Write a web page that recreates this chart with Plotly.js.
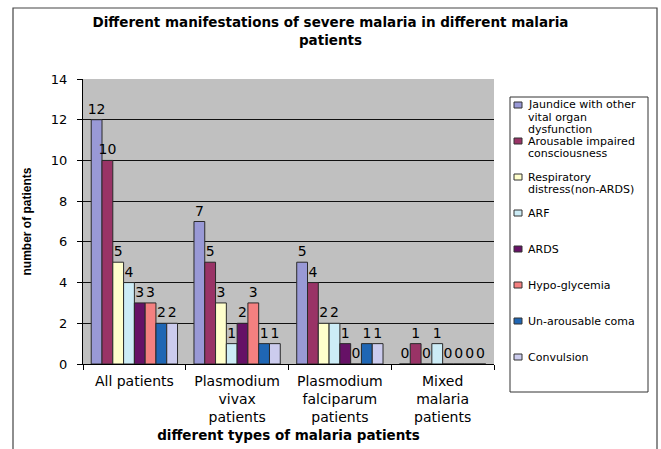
<!DOCTYPE html>
<html>
<head>
<meta charset="utf-8">
<script src="https://cdn.plot.ly/plotly-3.0.1.min.js"></script>
<style>html,body{margin:0;padding:0;background:#fff;}#chart{width:661px;height:449px;}</style>
</head>
<body>
<div id="chart"></div>
<script>
// ---- data ----
const categories = ["All patients", "Plasmodium<br>vivax<br>patients", "Plasmodium<br>falciparum<br>patients", "Mixed<br>malaria<br>patients"];
const seriesNames = ["Jaundice with other vital organ dysfunction", "Arousable impaired consciousness", "Respiratory distress(non-ARDS)", "ARF", "ARDS", "Hypo-glycemia", "Un-arousable coma", "Convulsion"];
const legendLabels = [["Jaundice with other", "vital organ", "dysfunction"], ["Arousable impaired", "consciousness"], ["Respiratory", "distress(non-ARDS)"], ["ARF"], ["ARDS"], ["Hypo-glycemia"], ["Un-arousable coma"], ["Convulsion"]];
const jaundice    = [12, 7, 5, 0];
const arousable   = [10, 5, 4, 1];
const respiratory = [5, 3, 2, 0];
const arf         = [4, 1, 2, 1];
const ards        = [3, 2, 1, 0];
const hypo        = [3, 3, 0, 0];
const unarousable = [2, 1, 1, 0];
const convulsion  = [2, 1, 1, 0];
const seriesValues = [jaundice, arousable, respiratory, arf, ards, hypo, unarousable, convulsion];
const seriesColors = ["#9999D6", "#993366", "#FFFFCC", "#CCECF6", "#661166", "#F48080", "#1F66B4", "#CCCCEE"];

// ---- layout geometry (pixels) ----
const W = 661, H = 449;
const plotL = 83, plotR = 494, plotT = 79, plotB = 364;
const pw = plotR - plotL, ph = plotB - plotT;
const px = x => (x - plotL) / pw;
const py = y => (plotB - y) / ph;

const FONT = "DejaVu Sans";

const traces = seriesNames.map((name, i) => ({
  type: "bar",
  name: name,
  x: categories,
  y: seriesValues[i],
  text: seriesValues[i].map(String),
  textposition: "outside",
  cliponaxis: false,
  constraintext: "none",
  textfont: {family: FONT, size: 14, color: "#000"},
  marker: {color: seriesColors[i], line: {color: "#2a2a2a", width: 1}},
  showlegend: false
}));

const shapes = [
  // outer frame
  {type: "rect", xref: "paper", yref: "paper", x0: px(13), x1: px(657), y0: py(470), y1: py(8),
   line: {color: "#444", width: 1.2}, fillcolor: "rgba(0,0,0,0)", layer: "below"},
  // legend box
  {type: "rect", xref: "paper", yref: "paper", x0: px(510), x1: px(648), y0: py(392), y1: py(97),
   line: {color: "#333", width: 1}, fillcolor: "#fff"}
];
const annotations = [];
legendLabels.forEach((lines, i) => {
  const y0 = 105 + 36 * i;
  shapes.push({type: "rect", xref: "paper", yref: "paper", x0: px(514), x1: px(522), y0: py(y0 + 3), y1: py(y0 - 3),
    line: {color: "#333", width: 1}, fillcolor: seriesColors[i]});
  lines.forEach((t, k) => {
    annotations.push({xref: "paper", yref: "paper", x: px(527), y: py(y0 + 12 * k), xanchor: "left", yanchor: "middle",
      text: t, showarrow: false, font: {family: FONT, size: 11, color: "#000"}, borderpad: 0});
  });
});

const layout = {
  width: W, height: H,
  margin: {l: plotL, r: W - plotR, t: plotT, b: H - plotB, pad: 0},
  paper_bgcolor: "#fff",
  plot_bgcolor: "#C0C0C0",
  barmode: "group",
  bargap: 0.16,
  bargroupgap: 0,
  showlegend: false,
  title: {
    text: "Different manifestations of severe malaria in different malaria<br>patients",
    font: {family: FONT, size: 13.5, color: "#000", weight: 700},
    x: 0.5, xref: "container", xanchor: "center",
    y: 1 - 27 / H, yref: "container", yanchor: "top"
  },
  xaxis: {
    type: "category",
    tickson: "boundaries",
    ticks: "outside", ticklen: 5, tickcolor: "#000",
    ticklabelstandoff: 4,
    showline: true, linecolor: "#000", linewidth: 1,
    tickfont: {family: FONT, size: 14, color: "#000"},
    title: {text: "different types of malaria patients", font: {family: FONT, size: 13.5, color: "#000", weight: 700}, standoff: 6},
    showgrid: false
  },
  yaxis: {
    range: [0, 14], dtick: 2,
    ticks: "outside", ticklen: 5, tickcolor: "#000",
    ticklabelstandoff: 7,
    showline: true, linecolor: "#000", linewidth: 1,
    showgrid: true, gridcolor: "#111", gridwidth: 1,
    zeroline: true, zerolinecolor: "#000",
    tickfont: {family: FONT, size: 13, color: "#000"},
    title: {text: "number of patients", font: {family: "Liberation Sans", size: 12, color: "#000", weight: 700}, standoff: 16}
  },
  shapes: shapes,
  annotations: annotations
};

Plotly.newPlot("chart", traces, layout, {displayModeBar: false, staticPlot: true});
</script>
</body>
</html>
